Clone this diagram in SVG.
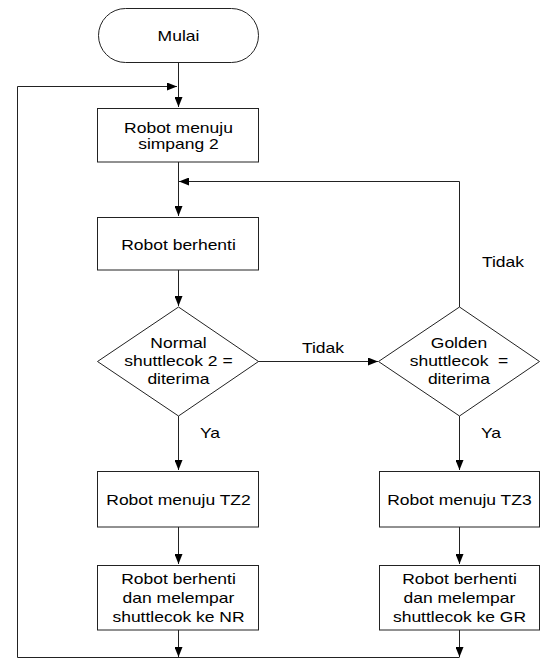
<svg xmlns="http://www.w3.org/2000/svg" width="541" height="662" viewBox="0 0 541 662">
<style>
.s{fill:#fff;stroke:#222;stroke-width:1}
.c{fill:none;stroke:#222;stroke-width:1}
text{font-family:"Liberation Sans",Arial,sans-serif;font-size:14px;fill:#000;text-anchor:middle;transform-box:fill-box;transform-origin:center;transform:scaleX(1.25)}
</style>
<defs>
<marker id="ah" viewBox="0 0 10 8" refX="10" refY="4" markerWidth="10" markerHeight="8" markerUnits="userSpaceOnUse" orient="auto">
<path d="M0,0 L10,4 L0,8 z" fill="#000"/>
</marker>
</defs>
<g id="connectors">
<path class="c" d="M178.5,62 V107" marker-end="url(#ah)"/>
<path class="c" d="M17.5,657.5 V86.5 H177" marker-end="url(#ah)"/>
<path class="c" d="M178.5,162 V216" marker-end="url(#ah)"/>
<path class="c" d="M459.5,307 V181.5 H179" marker-end="url(#ah)"/>
<path class="c" d="M178.5,270 V306" marker-end="url(#ah)"/>
<path class="c" d="M258,361.5 H378" marker-end="url(#ah)"/>
<path class="c" d="M178.5,416 V470" marker-end="url(#ah)"/>
<path class="c" d="M459.5,416 V470" marker-end="url(#ah)"/>
<path class="c" d="M178.5,527 V564" marker-end="url(#ah)"/>
<path class="c" d="M459.5,527 V564" marker-end="url(#ah)"/>
<path class="c" d="M178.5,630 V657" marker-end="url(#ah)"/>
<path class="c" d="M459.5,630 V657" marker-end="url(#ah)"/>
<path class="c" d="M17.5,657.5 H459.5"/>
<text x="323" y="353">Tidak</text>
<text x="503" y="267">Tidak</text>
<text x="210" y="438">Ya</text>
<text x="491" y="438">Ya</text>
</g>
<g id="mulai">
<rect class="s" x="98.5" y="8.5" width="160" height="54" rx="27"/>
<text x="178.5" y="41">Mulai</text>
</g>
<g id="simpang">
<rect class="s" x="97.5" y="108.5" width="161" height="53.5"/>
<text x="178.5" y="133">Robot menuju</text>
<text x="178.5" y="149">simpang 2</text>
</g>
<g id="berhenti">
<rect class="s" x="97.5" y="217.5" width="161" height="52.5"/>
<text x="178.5" y="250">Robot berhenti</text>
</g>
<g id="normal">
<path class="s" d="M178.5,307 L258.5,361.5 L178.5,416 L97.5,361.5 Z"/>
<text x="178.5" y="348">Normal</text>
<text x="178.5" y="366">shuttlecok 2 =</text>
<text x="178.5" y="384">diterima</text>
</g>
<g id="golden">
<path class="s" d="M459.5,307 L539.5,361.5 L459.5,416 L378.5,361.5 Z"/>
<text x="459" y="348">Golden</text>
<text x="459" y="366">shuttlecok&#160; =</text>
<text x="459" y="384">diterima</text>
</g>
<g id="tz2">
<rect class="s" x="97.5" y="471.5" width="161" height="55.5"/>
<text x="178.5" y="505">Robot menuju TZ2</text>
</g>
<g id="tz3">
<rect class="s" x="379.5" y="471.5" width="160" height="55.5"/>
<text x="459.5" y="505">Robot menuju TZ3</text>
</g>
<g id="nr">
<rect class="s" x="97.5" y="565.5" width="161" height="64.5"/>
<text x="178.5" y="584">Robot berhenti</text>
<text x="178.5" y="603">dan melempar</text>
<text x="178.5" y="622">shuttlecok ke NR</text>
</g>
<g id="gr">
<rect class="s" x="379.5" y="565.5" width="160" height="64.5"/>
<text x="459.5" y="584">Robot berhenti</text>
<text x="459.5" y="603">dan melempar</text>
<text x="459.5" y="622">shuttlecok ke GR</text>
</g>
</svg>
